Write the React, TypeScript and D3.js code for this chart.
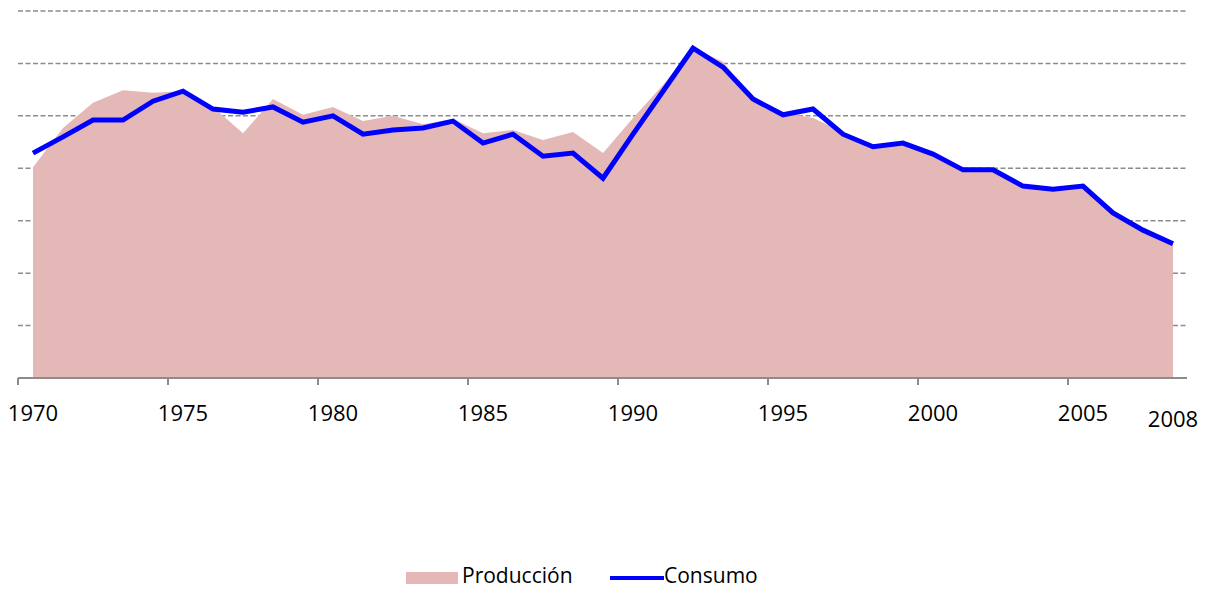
import React from 'react';
import * as d3 from 'd3';

// years 1970..2008
const years = d3.range(1970, 2009);

// Producción (area)
const produccion = [
  40.2, 47.7, 52.5, 54.9, 54.4, 54.7, 51.7, 46.7, 53.2, 50.2,
  51.7, 49.0, 50.0, 48.4, 49.4, 46.7, 47.3, 45.4, 46.9, 42.9,
  49.6, 55.9, 62.9, 60.3, 53.4, 50.7, 49.6, 46.9, 44.1, 45.0,
  43.1, 39.9, 39.9, 37.0, 36.2, 37.0, 31.9, 28.4, 25.7,
];

// Consumo (line)
const consumo = [
  42.9, 46.0, 49.2, 49.2, 52.8, 54.7, 51.3, 50.7, 51.7, 48.8,
  50.0, 46.5, 47.3, 47.7, 49.0, 44.8, 46.5, 42.3, 42.9, 38.1,
  46.5, 54.7, 62.9, 59.3, 53.2, 50.2, 51.3, 46.5, 44.1, 44.8,
  42.7, 39.7, 39.7, 36.6, 36.0, 36.6, 31.5, 28.2, 25.6,
];

const tickLabels = ['1970', '1975', '1980', '1985', '1990', '1995', '2000', '2005', '2008'];
const gridValues = [10, 20, 30, 40, 50, 60, 70];

const FONT = '"Open Sans", "Noto Sans", sans-serif';

const App = () => {
  const width = 1210;
  const height = 589;

  const x = d3.scaleLinear().domain([1969.5, 2008.5]).range([18, 1188]);
  const y = d3.scaleLinear().domain([0, 70]).range([378, 11]);

  const area = d3.area<number>()
    .x((d, i) => x(years[i]))
    .y0(y(0))
    .y1(d => y(d));

  const line = d3.line<number>()
    .x((d, i) => x(years[i]))
    .y(d => y(d));

  const tickPos = d3.range(1969.5, 2008, 5);

  return (
    <svg width={width} height={height} style={{ position: 'absolute', left: 0, top: 0 }} fontFamily={FONT}>
      <rect width={width} height={height} fill="#fff" />
      {gridValues.map(v => (
        <line key={v} x1={18} x2={1187} y1={y(v)} y2={y(v)} stroke="#8c8c8c" strokeWidth={1.5} strokeDasharray="5,2.5" />
      ))}
      <path d={area(produccion) || ''} fill="#e5b8b8" />
      <path d={line(consumo) || ''} fill="none" stroke="#0000ff" strokeWidth={5} strokeLinejoin="miter" />
      <line x1={18} x2={1187} y1={y(0)} y2={y(0)} stroke="#8c8c8c" strokeWidth={2} />
      {tickPos.map(t => (
        <line key={t} x1={x(t)} x2={x(t)} y1={y(0)} y2={y(0) + 7} stroke="#8c8c8c" strokeWidth={2} />
      ))}
      {tickLabels.map(l => (
        <text key={l} x={x(+l)} y={l === '2008' ? 427 : 421} textAnchor="middle" fontSize={22} fill="#000">{l}</text>
      ))}
      {/* legend */}
      <rect x={406} y={572} width={52} height={12} fill="#e5b8b8" />
      <text x={462} y={583} fontSize={21} fill="#000">Producción</text>
      <line x1={610} x2={664} y1={578} y2={578} stroke="#0000ff" strokeWidth={4} />
      <text x={664} y={583} fontSize={21} fill="#000">Consumo</text>
    </svg>
  );
};

export default App;
